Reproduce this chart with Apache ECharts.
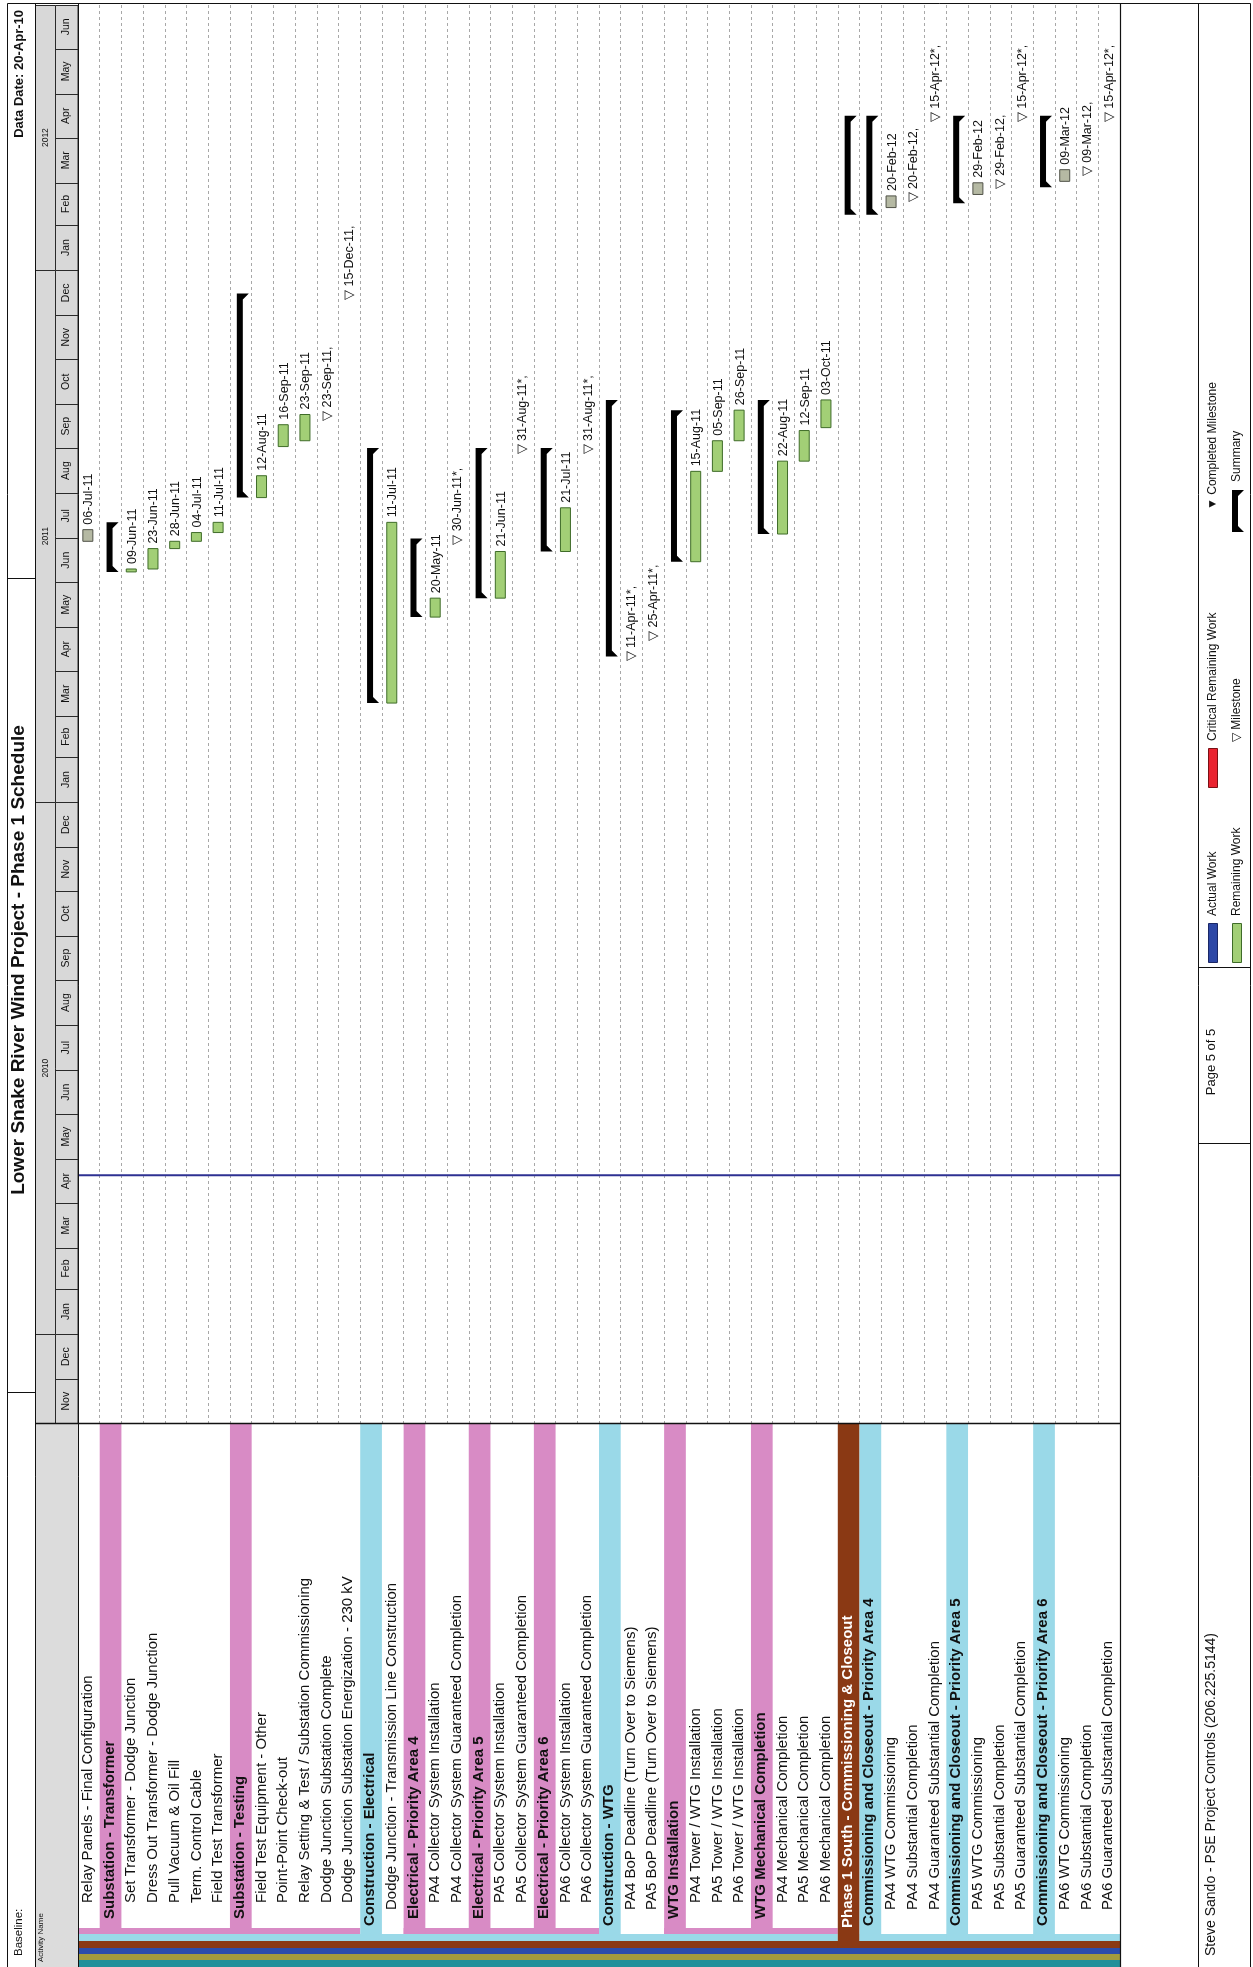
<!DOCTYPE html>
<html>
<head>
<meta charset="utf-8">
<title>Lower Snake River Wind Project - Phase 1 Schedule</title>
<script src="https://cdn.jsdelivr.net/npm/echarts@6/dist/echarts.min.js"></script>
<style>
html, body { margin: 0; padding: 0; background: #fff; }
#chart { width: 1253px; height: 1967px; }
</style>
</head>
<body>
<div id="chart"></div>
<script>
// ---------- timescale ----------
const axisStart = '2009-11-01';
const axisEnd = '2012-07-01';
const dataDate = '2010-04-20';

const monthLabels = ['Nov', 'Dec',
  'Jan', 'Feb', 'Mar', 'Apr', 'May', 'Jun', 'Jul', 'Aug', 'Sep', 'Oct', 'Nov', 'Dec',
  'Jan', 'Feb', 'Mar', 'Apr', 'May', 'Jun', 'Jul', 'Aug', 'Sep', 'Oct', 'Nov', 'Dec',
  'Jan', 'Feb', 'Mar', 'Apr', 'May', 'Jun'];

const yearSegments = [
  ['', '2009-11-01', '2010-01-01'],
  ['2010', '2010-01-01', '2011-01-01'],
  ['2011', '2011-01-01', '2012-01-01'],
  ['2012', '2012-01-01', '2012-07-01']
];

// ---------- activity rows (left to right) ----------
const rowNames = [
  'Relay Panels - Final Configuration',
  'Substation - Transformer',
  'Set Transformer - Dodge Junction',
  'Dress Out Transformer - Dodge Junction',
  'Pull Vacuum & Oil Fill',
  'Term. Control Cable',
  'Field Test Transformer',
  'Substation - Testing',
  'Field Test Equipment - Other',
  'Point-Point Check-out',
  'Relay Setting & Test / Substation Commissioning',
  'Dodge Junction Substation Complete',
  'Dodge Junction Substation Energization - 230 kV',
  'Construction - Electrical',
  'Dodge Junction - Transmission Line Construction',
  'Electrical - Priority Area 4',
  'PA4 Collector System Installation',
  'PA4 Collector System Guaranteed Completion',
  'Electrical - Priority Area 5',
  'PA5 Collector System Installation',
  'PA5 Collector System Guaranteed Completion',
  'Electrical - Priority Area 6',
  'PA6 Collector System Installation',
  'PA6 Collector System Guaranteed Completion',
  'Construction - WTG',
  'PA4 BoP Deadline (Turn Over to Siemens)',
  'PA5 BoP Deadline (Turn Over to Siemens)',
  'WTG Installation',
  'PA4 Tower / WTG Installation',
  'PA5 Tower / WTG Installation',
  'PA6 Tower / WTG Installation',
  'WTG Mechanical Completion',
  'PA4 Mechanical Completion',
  'PA5 Mechanical Completion',
  'PA6 Mechanical Completion',
  'Phase 1 South - Commissioning & Closeout',
  'Commissioning and Closeout - Priority Area 4',
  'PA4 WTG Commissioning',
  'PA4 Substantial Completion',
  'PA4 Guaranteed Substantial Completion',
  'Commissioning and Closeout - Priority Area 5',
  'PA5 WTG Commissioning',
  'PA5 Substantial Completion',
  'PA5 Guaranteed Substantial Completion',
  'Commissioning and Closeout - Priority Area 6',
  'PA6 WTG Commissioning',
  'PA6 Substantial Completion',
  'PA6 Guaranteed Substantial Completion'
];

// L4 / L3 = activities at WBS depth 4 / 3; P, C, B = WBS rows (pink, cyan, brown bands)
const rowKinds = [
  'L4', 'P', 'L4', 'L4', 'L4', 'L4', 'L4', 'P', 'L4', 'L4', 'L4', 'L4', 'L4',
  'C', 'L3', 'P', 'L4', 'L4', 'P', 'L4', 'L4', 'P', 'L4', 'L4',
  'C', 'L3', 'L3', 'P', 'L4', 'L4', 'L4', 'P', 'L4', 'L4', 'L4',
  'B', 'C', 'L3', 'L3', 'L3', 'C', 'L3', 'L3', 'L3', 'C', 'L3', 'L3', 'L3'
];

// rows covered by each WBS band along the bottom
const pinkSpans = [[1, 13], [16, 24], [28, 35]];
const cyanSpans = [[1, 35], [37, 48]];
const outerSpans = [[1, 48]];

// remaining work: [row, start, finish, type]  g = remaining, s = commissioning block
const workBars = [
  [1, '2011-06-29', '2011-07-06', 's'],
  [3, '2011-06-08', '2011-06-09', 'g'],
  [4, '2011-06-10', '2011-06-23', 'g'],
  [5, '2011-06-24', '2011-06-28', 'g'],
  [6, '2011-06-29', '2011-07-04', 'g'],
  [7, '2011-07-05', '2011-07-11', 'g'],
  [9, '2011-07-29', '2011-08-12', 'g'],
  [10, '2011-09-02', '2011-09-16', 'g'],
  [11, '2011-09-06', '2011-09-23', 'g'],
  [15, '2011-03-10', '2011-07-11', 'g'],
  [17, '2011-05-08', '2011-05-20', 'g'],
  [20, '2011-05-21', '2011-06-21', 'g'],
  [23, '2011-06-22', '2011-07-21', 'g'],
  [29, '2011-06-15', '2011-08-15', 'g'],
  [30, '2011-08-16', '2011-09-05', 'g'],
  [31, '2011-09-06', '2011-09-26', 'g'],
  [33, '2011-07-04', '2011-08-22', 'g'],
  [34, '2011-08-23', '2011-09-12', 'g'],
  [35, '2011-09-15', '2011-10-03', 'g'],
  [38, '2012-02-13', '2012-02-20', 's'],
  [42, '2012-02-22', '2012-02-29', 's'],
  [46, '2012-03-02', '2012-03-09', 's']
];

// WBS summary bars: [row, start, finish]
const summaryBars = [
  [2, '2011-06-08', '2011-07-11'],
  [8, '2011-07-29', '2011-12-15'],
  [14, '2011-03-10', '2011-08-31'],
  [16, '2011-05-08', '2011-06-30'],
  [19, '2011-05-21', '2011-08-31'],
  [22, '2011-06-22', '2011-08-31'],
  [25, '2011-04-11', '2011-10-03'],
  [28, '2011-06-15', '2011-09-26'],
  [32, '2011-07-04', '2011-10-03'],
  [36, '2012-02-08', '2012-04-15'],
  [37, '2012-02-08', '2012-04-15'],
  [41, '2012-02-16', '2012-04-15'],
  [45, '2012-02-27', '2012-04-15']
];

// milestones: [row, date, constrained]
const milestones = [
  [12, '2011-09-23', false],
  [13, '2011-12-15', false],
  [18, '2011-06-30', true],
  [21, '2011-08-31', true],
  [24, '2011-08-31', true],
  [26, '2011-04-11', true],
  [27, '2011-04-25', true],
  [39, '2012-02-20', false],
  [40, '2012-04-15', true],
  [43, '2012-02-29', false],
  [44, '2012-04-15', true],
  [47, '2012-03-09', false],
  [48, '2012-04-15', true]
];

// ---------- helpers ----------
const MON = ['Jan', 'Feb', 'Mar', 'Apr', 'May', 'Jun', 'Jul', 'Aug', 'Sep', 'Oct', 'Nov', 'Dec'];
const DAY = 86400000;
function ts(s) { const p = s.split('-').map(Number); return Date.UTC(p[0], p[1] - 1, p[2]); }
function fmt(t) {
  const d = new Date(t);
  return String(d.getUTCDate()).padStart(2, '0') + '-' + MON[d.getUTCMonth()] + '-' + String(d.getUTCFullYear()).slice(2);
}
const FONT = '"Liberation Sans", Arial, Helvetica, sans-serif';
const UP = Math.PI / 2;   // text reading bottom-to-top
const T0 = ts(axisStart), T1 = ts(axisEnd);
const NROWS = rowNames.length;

function vText(x, y, text, size, opts) {
  opts = opts || {};
  return {
    type: 'text', x: x, y: y, rotation: UP, z: opts.z || 0,
    style: {
      text: text, fontSize: size, fontFamily: FONT, fontWeight: opts.bold ? 'bold' : 'normal',
      fill: opts.fill || '#111', align: opts.align || 'left', verticalAlign: 'middle'
    }
  };
}

const chart = echarts.init(document.getElementById('chart'), null, { renderer: 'canvas', width: 1253, height: 1967 });

// vertical pixel levels of the WBS band strips below the activity names
const LEVEL = { P: 1934, C: 1941, B: 1948 };
const STRIPS = [
  ['pink', '#d88bc5', 1928, 1934, pinkSpans],
  ['cyan', '#9ad9e8', 1934, 1941, cyanSpans],
  ['brown', '#8a3914', 1941, 1948, outerSpans],
  ['blue', '#2b4dac', 1948, 1954, outerSpans],
  ['olive', '#a39b3e', 1954, 1960, outerSpans],
  ['teal', '#21909a', 1960, 1967, outerSpans]
];
const BAND_COLOR = { P: '#d88bc5', C: '#9ad9e8', B: '#8a3914' };
const NAME_START = { L4: 1903, L3: 1910, P: 1919, C: 1926, B: 1928 };

const stripData = [];
STRIPS.forEach((s, k) => s[4].forEach(sp => stripData.push([sp[0] - 1, sp[1], T0, k])));

const option = {
  animation: false,
  backgroundColor: '#fff',
  grid: [
    { left: 78, right: 133, top: 5, bottom: 544 },
    { left: 35, width: 43, top: 5, bottom: 544 }
  ],
  xAxis: [
    {
      gridIndex: 0, type: 'value', min: 0, max: NROWS, interval: 1,
      axisLine: { show: false }, axisTick: { show: false }, axisLabel: { show: false },
      splitLine: { show: true, lineStyle: { color: '#a8a8a8', width: 1, type: [3, 3] } }
    },
    { gridIndex: 1, type: 'value', min: 0, max: 1, show: false }
  ],
  yAxis: [
    { gridIndex: 0, type: 'time', min: T0, max: T1, show: false, splitLine: { show: false } },
    { gridIndex: 1, type: 'time', min: T0, max: T1, show: false, splitLine: { show: false } }
  ],
  series: [
    // month cells of the timescale
    {
      type: 'custom', xAxisIndex: 1, yAxisIndex: 1, silent: true, z: 3,
      data: monthLabels.map((m, i) => [0, Date.UTC(2009, 10 + i, 1), Date.UTC(2009, 11 + i, 1)]),
      encode: { x: 0, y: [1, 2] },
      renderItem(params, api) {
        const cs = params.coordSys;
        const y0 = api.coord([0, api.value(1)])[1];
        const y1 = api.coord([0, api.value(2)])[1];
        return {
          type: 'group', children: [
            { type: 'rect', shape: { x: cs.x + 20.5, y: Math.round(y1) + 0.5, width: 22.5, height: Math.round(y0) - Math.round(y1) },
              style: { fill: '#d8d8d8', stroke: '#2a2a2a', lineWidth: 1 } },
            vText(cs.x + 31.5, (y0 + y1) / 2, monthLabels[params.dataIndex], 10.5, { align: 'center' })
          ]
        };
      }
    },
    // year cells of the timescale
    {
      type: 'custom', xAxisIndex: 1, yAxisIndex: 1, silent: true, z: 3,
      data: yearSegments.map(s => [0, ts(s[1]), ts(s[2])]),
      encode: { x: 0, y: [1, 2] },
      renderItem(params, api) {
        const cs = params.coordSys;
        const y0 = api.coord([0, api.value(1)])[1];
        const y1 = api.coord([0, api.value(2)])[1];
        return {
          type: 'group', children: [
            { type: 'rect', shape: { x: cs.x + 0.5, y: Math.round(y1) + 0.5, width: 20, height: Math.round(y0) - Math.round(y1) },
              style: { fill: '#d8d8d8', stroke: '#2a2a2a', lineWidth: 1 } },
            vText(cs.x + 10.5, (y0 + y1) / 2, yearSegments[params.dataIndex][0], 8.5, { align: 'center' })
          ]
        };
      }
    },
    // data date line
    {
      type: 'custom', silent: true, z: 4,
      data: [[0, ts(dataDate)]],
      encode: { x: 0, y: 1 },
      renderItem(params, api) {
        const a = api.coord([0, api.value(1)]);
        const b = api.coord([NROWS, api.value(1)]);
        return { type: 'line', shape: { x1: a[0], y1: a[1], x2: b[0], y2: b[1] }, style: { stroke: '#2e3192', lineWidth: 2 } };
      }
    },
    // WBS summary bars (drawn through the end of the finish day)
    {
      type: 'custom', silent: true, z: 5,
      data: summaryBars.map(s => [s[0] - 0.5, ts(s[1]), ts(s[2])]),
      encode: { x: 0, y: [1, 2] },
      renderItem(params, api) {
        const pS = api.coord([api.value(0), api.value(1)]);
        const pE = api.coord([api.value(0), api.value(2) + DAY]);
        const x0 = pS[0] - 4, x1 = pS[0] + 2, c = 6;
        return {
          type: 'polygon',
          shape: { points: [[x0, pS[1]], [x1 + c, pS[1]], [x1, pS[1] - c], [x1, pE[1] + c], [x1 + c, pE[1]], [x0, pE[1]]] },
          style: { fill: '#000' }
        };
      }
    },
    // remaining work bars with finish labels
    {
      type: 'custom', silent: true, z: 6,
      data: workBars.map(b => [b[0] - 0.5, ts(b[1]), ts(b[2])]),
      encode: { x: 0, y: [1, 2] },
      renderItem(params, api) {
        const pS = api.coord([api.value(0), api.value(1)]);
        const pE = api.coord([api.value(0), api.value(2) + DAY]);
        const grey = workBars[params.dataIndex][3] === 's';
        const cx = pS[0] - 1;
        const h = Math.max(2, pS[1] - pE[1]);
        const top = pS[1] - h;
        return {
          type: 'group', children: [
            { type: 'rect', shape: { x: cx - 5, y: top, width: 10, height: h },
              style: grey ? { fill: '#b5b9a3', stroke: '#505248', lineWidth: 1 } : { fill: '#a2cf76', stroke: '#3f6c29', lineWidth: 1 } },
            vText(cx + 1, top - 5, fmt(api.value(2)), 12.5)
          ]
        };
      }
    },
    // milestones
    {
      type: 'custom', silent: true, z: 6,
      data: milestones.map(m => [m[0] - 0.5, ts(m[1])]),
      encode: { x: 0, y: 1 },
      renderItem(params, api) {
        const p = api.coord([api.value(0), api.value(1)]);
        const m = milestones[params.dataIndex];
        return vText(p[0], p[1] + 5, '\u25BD ' + fmt(api.value(1)) + (m[2] ? '*' : '') + ',', 12.5);
      }
    },
    // WBS band strips along the bottom
    {
      type: 'custom', silent: true, z: 2,
      data: stripData,
      encode: { x: [0, 1], y: 2 },
      renderItem(params, api) {
        const s = STRIPS[api.value(3)];
        const a = api.coord([api.value(0), T0]);
        const b = api.coord([api.value(1), T0]);
        return { type: 'rect', shape: { x: a[0], y: s[2], width: b[0] - a[0], height: s[3] - s[2] }, style: { fill: s[1] } };
      }
    },
    // WBS row bands behind the group names
    {
      type: 'custom', silent: true, z: 2,
      data: rowKinds.map((k, i) => [i, i + 1, T0]).filter((d, i) => BAND_COLOR[rowKinds[i]]),
      encode: { x: [0, 1], y: 2 },
      renderItem(params, api) {
        const kind = rowKinds[api.value(0)];
        const a = api.coord([api.value(0), T0]);
        const b = api.coord([api.value(1), T0]);
        return { type: 'rect', shape: { x: a[0], y: a[1] + 1, width: b[0] - a[0], height: LEVEL[kind] - a[1] - 1 }, style: { fill: BAND_COLOR[kind] } };
      }
    },
    // activity names
    {
      type: 'custom', silent: true, z: 7,
      data: rowNames.map((n, i) => [i + 0.5, T0]),
      encode: { x: 0, y: 1 },
      renderItem(params, api) {
        const i = params.dataIndex;
        const kind = rowKinds[i];
        const p = api.coord([api.value(0), T0]);
        const group = kind === 'P' || kind === 'C' || kind === 'B';
        return vText(p[0] - 1, NAME_START[kind], rowNames[i], 15, { bold: group, fill: kind === 'B' ? '#fff' : '#111' });
      }
    }
  ],
  graphic: {
    elements: [
      // header cell behind the activity names
      { type: 'rect', z: 0, shape: { x: 35, y: 1423, width: 43, height: 544 }, style: { fill: '#dcdcdc' } },
      // frame
      { type: 'polyline', z: 50, shape: { points: [[7.5, 1967], [7.5, 3.5], [1250.5, 3.5], [1250.5, 1967]] }, style: { stroke: '#111', lineWidth: 1, fill: null } },
      { type: 'line', z: 50, shape: { x1: 35.5, y1: 3.5, x2: 35.5, y2: 1967 }, style: { stroke: '#111', lineWidth: 1 } },
      { type: 'line', z: 50, shape: { x1: 78.5, y1: 3.5, x2: 78.5, y2: 1967 }, style: { stroke: '#111', lineWidth: 1 } },
      { type: 'line', z: 50, shape: { x1: 35, y1: 1423.5, x2: 1120.5, y2: 1423.5 }, style: { stroke: '#111', lineWidth: 1.5 } },
      { type: 'line', z: 50, shape: { x1: 1120.5, y1: 3.5, x2: 1120.5, y2: 1967 }, style: { stroke: '#111', lineWidth: 1.2 } },
      { type: 'line', z: 50, shape: { x1: 1198.5, y1: 3.5, x2: 1198.5, y2: 1967 }, style: { stroke: '#111', lineWidth: 1 } },
      { type: 'line', z: 50, shape: { x1: 7.5, y1: 578.5, x2: 35.5, y2: 578.5 }, style: { stroke: '#111', lineWidth: 1 } },
      { type: 'line', z: 50, shape: { x1: 7.5, y1: 1392.5, x2: 35.5, y2: 1392.5 }, style: { stroke: '#111', lineWidth: 1 } },
      { type: 'line', z: 50, shape: { x1: 1198.5, y1: 967.5, x2: 1250.5, y2: 967.5 }, style: { stroke: '#111', lineWidth: 1 } },
      { type: 'line', z: 50, shape: { x1: 1198.5, y1: 1143.5, x2: 1250.5, y2: 1143.5 }, style: { stroke: '#111', lineWidth: 1 } },

      // title block
      vText(19, 10, 'Data Date: 20-Apr-10', 13, { bold: true, align: 'right', z: 60 }),
      vText(19, 960, 'Lower Snake River Wind Project - Phase 1 Schedule', 19, { bold: true, align: 'center', z: 60 }),
      vText(19, 1956, 'Baseline:', 11.5, { z: 60 }),
      vText(41, 1962, 'Activity Name', 8, { z: 60 }),

      // legend
      { type: 'rect', z: 60, shape: { x: 1208.5, y: 923.5, width: 9, height: 39 }, style: { fill: '#2d47a6', stroke: '#1a2766', lineWidth: 1 } },
      vText(1213, 916, 'Actual Work', 12, { z: 60 }),
      { type: 'rect', z: 60, shape: { x: 1232.5, y: 923.5, width: 9, height: 39 }, style: { fill: '#a2cf76', stroke: '#3f6c29', lineWidth: 1 } },
      vText(1237, 916, 'Remaining Work', 12, { z: 60 }),
      { type: 'rect', z: 60, shape: { x: 1208.5, y: 748.5, width: 9, height: 39 }, style: { fill: '#ea2330', stroke: '#7a1015', lineWidth: 1 } },
      vText(1213, 741, 'Critical Remaining Work', 12, { z: 60 }),
      vText(1237, 742, '\u25BD Milestone', 12, { z: 60 }),
      vText(1213, 510, '\u25BC Completed Milestone', 12, { z: 60 }),
      { type: 'polygon', z: 60, shape: { points: [[1232, 532], [1244, 532], [1238, 526], [1238, 496], [1244, 490], [1232, 490]] }, style: { fill: '#000' } },
      vText(1237, 482, 'Summary', 12, { z: 60 }),

      // footer
      vText(1211, 1062, 'Page 5 of 5', 13, { align: 'center', z: 60 }),
      vText(1211, 1956, 'Steve Sando - PSE Project Controls (206.225.5144)', 14, { z: 60 })
    ]
  }
};

chart.setOption(option);
</script>
</body>
</html>
